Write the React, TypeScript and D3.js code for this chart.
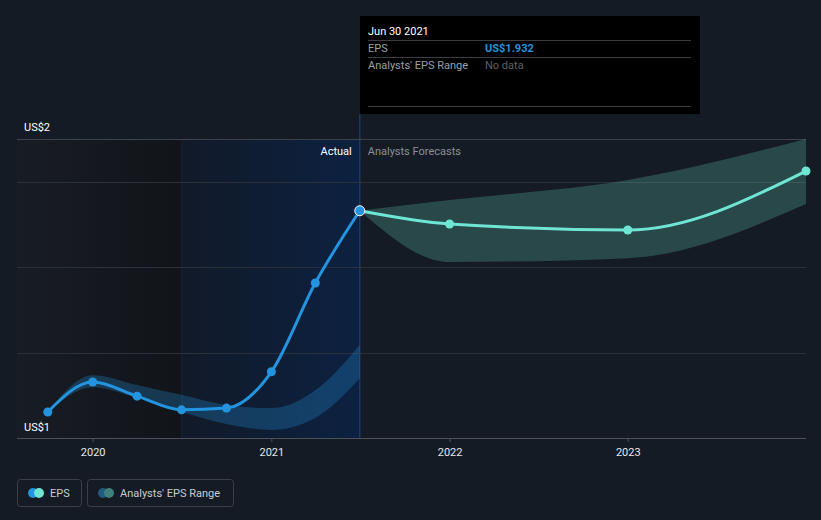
import * as d3 from "d3";
import React from "react";

// EPS history (quarter ends) and analyst forecasts
const actualDates = ["2019-09-30", "2019-12-31", "2020-03-31", "2020-06-30", "2020-09-30", "2020-12-31", "2021-03-31", "2021-06-30"];
const actualEps = [1.461, 1.531, 1.498, 1.466, 1.47, 1.555, 1.763, 1.932];

const pastRangeHigh = [1.461, 1.547, 1.524, 1.501, 1.477, 1.47, 1.512, 1.618];
const pastRangeLow = [1.461, 1.519, 1.494, 1.461, 1.433, 1.419, 1.447, 1.54];

const forecastDates = ["2021-06-30", "2021-12-31", "2022-12-31", "2023-12-31"];
const forecastEps = [1.932, 1.901, 1.887, 2.025];
const forecastHigh = [1.932, 1.957, 2.004, 2.1];
const forecastLow = [1.932, 1.812, 1.821, 1.948];

const yearTicks = ["2020", "2021", "2022", "2023"];
const gridValues = [1.6, 1.8, 2.0];

const FONT = "Roboto, 'Open Sans', sans-serif";
const BG = "#151b25";
const BLUE = "#2394df";
const TEAL = "#6ee6d3";

const parse = d3.timeParse("%Y-%m-%d");

export default function App() {
  const width = 821;
  const height = 520;

  const x = d3
    .scaleTime()
    .domain([parse("2019-07-29")!, parse("2023-12-31")!])
    .range([17, 806]);
  const y = d3.scaleLinear().domain([1.4, 2.1]).range([438, 139]);

  const actual = actualDates.map((d, i) => ({ date: parse(d)!, v: actualEps[i], hi: pastRangeHigh[i], lo: pastRangeLow[i] }));
  const forecast = forecastDates.map((d, i) => ({ date: parse(d)!, v: forecastEps[i], hi: forecastHigh[i], lo: forecastLow[i] }));

  const line = d3
    .line<{ date: Date; v: number }>()
    .x((d) => x(d.date))
    .y((d) => y(d.v))
    .curve(d3.curveMonotoneX);

  const area = d3
    .area<{ date: Date; hi: number; lo: number }>()
    .x((d) => x(d.date))
    .y0((d) => y(d.lo))
    .y1((d) => y(d.hi))
    .curve(d3.curveMonotoneX);

  const x0 = x.range()[0];
  const x1 = x.range()[1];
  const lastActual = actual[actual.length - 1];
  const nowX = x(lastActual.date);
  const pastStart = x(parse("2020-06-30")!);
  const yTop = y(2.1);
  const yBottom = y(1.4);

  return (
    <svg width={width} height={height} style={{ position: "absolute", left: 0, top: 0, background: BG }}>
      <defs>
        <linearGradient id="pastShade" x1="0" x2="1" y1="0" y2="0">
          <stop offset="0%" stopColor="#181c24" />
          <stop offset="100%" stopColor="#111419" />
        </linearGradient>
        <linearGradient id="actualShade" x1="0" x2="1" y1="0" y2="0">
          <stop offset="0%" stopColor="#111a28" />
          <stop offset="100%" stopColor="#0c2141" />
        </linearGradient>
      </defs>
      <rect x={0} y={0} width={width} height={height} fill={BG} />

      {/* background regions */}
      <rect x={x0} y={yTop} width={pastStart - x0} height={yBottom - yTop} fill="url(#pastShade)" />
      <rect x={pastStart} y={yTop} width={nowX - pastStart} height={yBottom - yTop} fill="url(#actualShade)" />
      <line x1={pastStart + 0.5} x2={pastStart + 0.5} y1={yTop} y2={yBottom} stroke="#14243a" />
      <line x1={nowX} x2={nowX} y1={114} y2={yBottom} stroke="#173a66" strokeWidth={1.5} />

      {/* grid */}
      {gridValues.map((g) => (
        <line key={g} x1={x0} x2={x1} y1={Math.round(y(g)) + 0.5} y2={Math.round(y(g)) + 0.5} stroke="#2b313a" />
      ))}
      <line x1={x0} x2={x1} y1={Math.round(yTop) + 0.5} y2={Math.round(yTop) + 0.5} stroke="#3d434c" />
      <line x1={x0} x2={x1} y1={Math.round(yBottom) + 0.5} y2={Math.round(yBottom) + 0.5} stroke="#4b5059" />

      {/* x ticks */}
      {yearTicks.map((t) => {
        const tx = x(parse(`${t}-01-01`)!);
        return (
          <g key={t}>
            <line x1={tx} x2={tx} y1={yBottom} y2={yBottom + 4} stroke="#4b5059" />
            <text x={tx} y={456} fill="#e6e8eb" fontSize={11} fontFamily={FONT} textAnchor="middle">
              {t}
            </text>
          </g>
        );
      })}

      {/* y labels */}
      <text x={24} y={131} fill="#ffffff" fontSize={11} fontFamily={FONT}>US$2</text>
      <text x={24} y={431} fill="#ffffff" fontSize={11} fontFamily={FONT}>US$1</text>

      <text x={nowX - 8} y={155} fill="#ffffff" fontSize={11} fontFamily={FONT} textAnchor="end">Actual</text>
      <text x={nowX + 8} y={155} fill="#8a8f96" fontSize={11} fontFamily={FONT}>Analysts Forecasts</text>

      {/* ranges */}
      <path d={area(actual) ?? ""} fill={BLUE} fillOpacity={0.28} />
      <path d={area(forecast) ?? ""} fill={TEAL} fillOpacity={0.22} />

      {/* lines */}
      <path d={line(forecast) ?? ""} fill="none" stroke={TEAL} strokeWidth={3} />
      <path d={line(actual) ?? ""} fill="none" stroke={BLUE} strokeWidth={3} />

      {forecast.slice(1).map((d, i) => (
        <circle key={i} cx={x(d.date)} cy={y(d.v)} r={4.5} fill={TEAL} />
      ))}
      {actual.slice(0, -1).map((d, i) => (
        <circle key={i} cx={x(d.date)} cy={y(d.v)} r={4.5} fill={BLUE} />
      ))}
      <circle cx={nowX} cy={y(lastActual.v)} r={5} fill={BLUE} stroke="#ffffff" strokeWidth={1} />

      {/* tooltip */}
      <g fontFamily={FONT} fontSize={11}>
        <rect x={360} y={16} width={340} height={98} fill="#000000" />
        <text x={368} y={35} fill="#ffffff">Jun 30 2021</text>
        <line x1={368} x2={691} y1={40.5} y2={40.5} stroke="#3a3d42" />
        <text x={368} y={52} fill="#9aa0a6">EPS</text>
        <text x={485} y={52} fill={BLUE} fontWeight="bold">US$1.932</text>
        <line x1={368} x2={691} y1={57.5} y2={57.5} stroke="#3a3d42" />
        <text x={368} y={69} fill="#9aa0a6">Analysts' EPS Range</text>
        <text x={485} y={69} fill="#5d6167">No data</text>
        <line x1={368} x2={691} y1={106.5} y2={106.5} stroke="#3a3d42" />
      </g>

      {/* legend */}
      <g fontFamily={FONT} fontSize={11}>
        <rect x={17.5} y={479.5} width={64} height={27} rx={3} fill="none" stroke="#3a3f48" />
        <circle cx={33} cy={493} r={5} fill={BLUE} />
        <circle cx={39} cy={493} r={5} fill={TEAL} />
        <text x={50} y={497} fill="#c9ccd0">EPS</text>
        <rect x={87.5} y={479.5} width={146} height={27} rx={3} fill="none" stroke="#3a3f48" />
        <circle cx={103} cy={493} r={5} fill="#245a80" />
        <circle cx={109} cy={493} r={5} fill="#3f7f7c" />
        <text x={120} y={497} fill="#c9ccd0">Analysts' EPS Range</text>
      </g>
    </svg>
  );
}
